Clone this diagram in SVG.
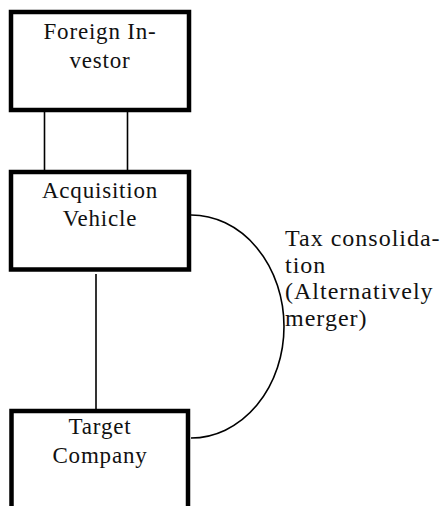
<svg xmlns="http://www.w3.org/2000/svg" width="446" height="506" viewBox="0 0 446 506">
<style>
.box{fill:#fff;stroke:#000;stroke-width:4.5}
.t{font-family:"Liberation Serif",serif;font-size:23px;letter-spacing:0.8px;fill:#111;text-anchor:middle}
.lbl{font-family:"Liberation Serif",serif;font-size:24px;letter-spacing:1px;fill:#111}
.c{fill:none;stroke:#000;stroke-width:1.6}
</style>
<rect width="446" height="506" fill="#fff"/>
<g id="connectors">
<line class="c" x1="44.5" y1="112" x2="44.5" y2="170"/>
<line class="c" x1="127.5" y1="112" x2="127.5" y2="170"/>
<line class="c" x1="96" y1="274" x2="96" y2="409"/>
<path class="c" d="M191,215 A93,111.5 0 0 1 191,438"/>
</g>
<g id="foreign-investor">
<rect class="box" x="11" y="12" width="178" height="98"/>
<text class="t" x="100" y="39">Foreign In-</text>
<text class="t" x="100" y="68">vestor</text>
</g>
<g id="acquisition-vehicle">
<rect class="box" x="11" y="172" width="178" height="97.5"/>
<text class="t" x="100" y="198">Acquisition</text>
<text class="t" x="100" y="226">Vehicle</text>
</g>
<g id="target-company">
<rect class="box" x="11.5" y="411" width="176.5" height="110"/>
<text class="t" x="100" y="434">Target</text>
<text class="t" x="100" y="463">Company</text>
</g>
<g id="label">
<text class="lbl" x="285" y="246">Tax consolida-</text>
<text class="lbl" x="285" y="273">tion</text>
<text class="lbl" x="285" y="299">(Alternatively</text>
<text class="lbl" x="285" y="326">merger)</text>
</g>
</svg>
